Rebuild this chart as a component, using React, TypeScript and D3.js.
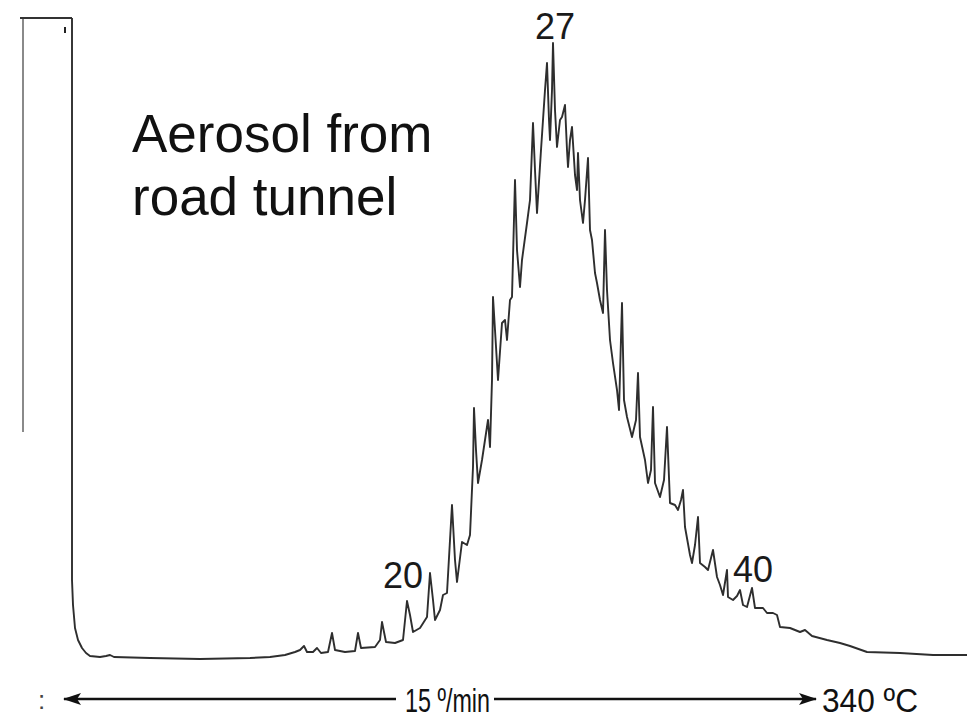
import React from "react";
import * as d3 from "d3";

// Chromatogram trace: scan position (x) vs detector signal (y)
const traceX = [50, 50, 51, 53, 56, 60, 64, 68, 78, 84, 88, 92, 128, 178, 228, 248, 263, 273, 278, 282, 285, 291, 295, 299, 306, 310, 313, 323, 333, 336, 339, 353, 358, 360, 364, 373, 381, 385, 388, 391, 398, 405, 408, 411, 413, 418, 421, 425, 430, 433, 435, 440, 445, 448, 451, 452, 454, 456, 460, 466, 468, 470, 471, 473, 476, 480, 483, 485, 488, 490, 493, 495, 498, 500, 505, 508, 511, 513, 515, 519, 523, 525, 527, 528, 530, 531, 533, 535, 538, 540, 543, 545, 546, 548, 550, 553, 555, 556, 558, 561, 563, 566, 568, 570, 573, 575, 578, 581, 583, 585, 588, 591, 595, 597, 600, 602, 605, 610, 614, 616, 618, 623, 626, 629, 631, 633, 638, 642, 645, 648, 653, 656, 659, 661, 663, 668, 670, 673, 676, 678, 683, 686, 691, 695, 698, 701, 705, 706, 711, 715, 718, 721, 725, 730, 733, 741, 745, 751, 755, 758, 768, 778, 783, 790, 805, 818, 828, 845, 878, 911, 945];
const traceY = [642, 80, 55, 32, 20, 12, 7, 4, 3, 4, 5, 3, 2, 1, 2, 3, 5, 8, 10, 14, 8, 8, 12, 7, 8, 27, 10, 8, 9, 27, 12, 13, 20, 38, 18, 17, 20, 59, 45, 28, 32, 43, 87, 60, 40, 50, 65, 67, 155, 100, 78, 118, 115, 125, 193, 252, 210, 177, 200, 240, 213, 280, 363, 330, 280, 337, 340, 320, 360, 363, 480, 410, 373, 400, 437, 460, 537, 490, 447, 510, 570, 597, 540, 520, 570, 617, 550, 513, 540, 543, 555, 510, 493, 520, 533, 485, 470, 507, 460, 437, 460, 502, 430, 420, 387, 377, 360, 347, 430, 370, 320, 297, 270, 250, 357, 260, 243, 223, 240, 287, 223, 200, 177, 190, 253, 177, 163, 180, 233, 157, 155, 150, 160, 170, 133, 105, 97, 115, 143, 97, 93, 90, 110, 83, 75, 65, 90, 63, 60, 64, 70, 55, 53, 72, 52, 52, 47, 47, 45, 33, 32, 28, 30, 24, 20, 17, 14, 8, 7, 5, 5];

// Solvent-front stub on the left edge
const solventX = [1, 1, 50];
const solventY = [228, 642, 642];

// Peak (carbon-number) annotations
const peakLabels = ["20", "27", "40"];
const peakLabelX = [381, 533, 731];
const peakLabelY = [72, 621, 78];

const titleLines = ["Aerosol from", "road tunnel"];
const rateLabel = "15 º/min";
const endTempLabel = "340 ºC";

const W = 978;
const H = 720;

export default function App() {
  const x = d3.scaleLinear().domain([0, 950]).range([22, 972]);
  const y = d3.scaleLinear().domain([0, 642]).range([660, 18]);

  const trace = traceX.map((v, i) => [v, traceY[i]] as [number, number]);
  const solvent = solventX.map((v, i) => [v, solventY[i]] as [number, number]);
  const line = d3
    .line<[number, number]>()
    .x((d) => x(d[0]))
    .y((d) => y(d[1]));

  const font = "'Liberation Sans', Arial, Helvetica, sans-serif";

  return (
    <svg
      width={W}
      height={H}
      style={{ position: "absolute", left: 0, top: 0, background: "#fff" }}
    >
      <defs>
        <marker
          id="arrowHead"
          viewBox="0 0 18 12"
          refX="17"
          refY="6"
          markerWidth="18"
          markerHeight="12"
          markerUnits="userSpaceOnUse"
          orient="auto-start-reverse"
        >
          <path d="M0,0 L18,6 L0,12 L4,6 Z" fill="#111" />
        </marker>
      </defs>
      <rect x={0} y={0} width={W} height={H} fill="#fff" />

      {/* solvent front */}
      <path
        d={line(solvent) || ""}
        fill="none"
        stroke="#8a8a8a"
        strokeWidth={2}
      />
      <line x1={x(-2)} x2={x(50)} y1={y(642)} y2={y(642)} stroke="#333" strokeWidth={2} />
      <line x1={x(43)} x2={x(43)} y1={y(633)} y2={y(627)} stroke="#222" strokeWidth={2} />

      {/* chromatogram */}
      <path
        d={line(trace) || ""}
        fill="none"
        stroke="#2e2e2e"
        strokeWidth={1.9}
        strokeLinejoin="round"
      />

      {/* peak labels */}
      {peakLabels.map((t, i) => (
        <text
          key={t}
          x={x(peakLabelX[i])}
          y={y(peakLabelY[i])}
          fontFamily={font}
          fontSize={36}
          textAnchor="middle"
          fill="#1a1a1a"
        >
          {t}
        </text>
      ))}

      {/* title */}
      {titleLines.map((t, i) => (
        <text
          key={t}
          x={132}
          y={152 + i * 63}
          fontFamily={font}
          fontSize={53}
          fill="#111"
        >
          {t}
        </text>
      ))}

      {/* temperature-programme arrows */}
      <line x1={64} x2={396} y1={699} y2={699} stroke="#111" strokeWidth={2.5} markerStart="url(#arrowHead)" />
      <line x1={494} x2={816} y1={699} y2={699} stroke="#111" strokeWidth={2.5} markerEnd="url(#arrowHead)" />
      <text
        x={405}
        y={712}
        fontFamily={font}
        fontSize={34}
        textLength={85}
        lengthAdjust="spacingAndGlyphs"
        fill="#111"
      >
        {rateLabel}
      </text>
      <text
        x={822}
        y={712}
        fontFamily={font}
        fontSize={34}
        textLength={96}
        lengthAdjust="spacingAndGlyphs"
        fill="#111"
      >
        {endTempLabel}
      </text>
      <text x={38} y={709} fontFamily={font} fontSize={26} fill="#444">
        :
      </text>
    </svg>
  );
}
